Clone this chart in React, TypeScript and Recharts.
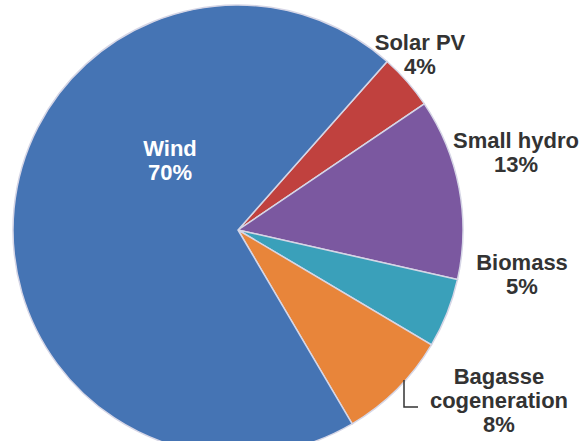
import React from 'react'
import { Cell, Pie, PieChart } from 'recharts'

// Renewable capacity mix, share of total (%)
const sources = ['Solar PV', 'Small hydro', 'Biomass', 'Bagasse cogeneration', 'Wind']
const shares = [4, 13, 5, 8, 70]
const sliceColors = ['#c0413e', '#7b58a0', '#3aa0ba', '#e8853a', '#4574b4']

// label text lines per slice, drawn next to (or inside) each wedge
const labelLines = [
  ['Solar PV', '4%'],
  ['Small hydro', '13%'],
  ['Biomass', '5%'],
  ['Bagasse', 'cogeneration', '8%'],
  ['Wind', '70%'],
]

// where each label block is centred, relative to the pie centre
const labelOffset = [
  { dx: 182, dy: -176 },
  { dx: 278, dy: -78 },
  { dx: 284, dy: 44 },
  { dx: 261, dy: 170 },
  { dx: -68, dy: -70 },
]

const data = sources.map((name, i) => ({ name, value: shares[i] }))

const FONT = '"Liberation Sans", Arial, sans-serif'
const LINE = 24

function renderLabel(props: any) {
  const { cx, cy, index } = props
  const lines = labelLines[index]
  const off = labelOffset[index]
  const inside = sources[index] === 'Wind'
  const x = cx + off.dx
  const top = cy + off.dy - ((lines.length - 1) * LINE) / 2
  return (
    <g key={`lbl-${index}`}>
      <text
        x={x}
        y={top}
        textAnchor="middle"
        dominantBaseline="central"
        fontFamily={FONT}
        fontWeight="bold"
        fontSize={22}
        fill={inside ? '#ffffff' : '#333333'}
      >
        {lines.map((l, j) => (
          <tspan key={j} x={x} dy={j === 0 ? 0 : LINE}>
            {l}
          </tspan>
        ))}
      </text>
      {sources[index] === 'Bagasse cogeneration' && (
        <polyline
          points={`${cx + 166},${cy + 150} ${cx + 166},${cy + 177} ${cx + 180},${cy + 177}`}
          fill="none"
          stroke="#333333"
          strokeWidth={1.5}
        />
      )}
    </g>
  )
}

export default function App() {
  return (
    <div style={{ position: 'absolute', left: 0, top: 0, width: 585, height: 441, background: '#ffffff' }}>
      <PieChart width={585} height={441} margin={{ top: 0, right: 0, bottom: 0, left: 0 }}>
        <Pie
          data={data}
          dataKey="value"
          nameKey="name"
          cx={238}
          cy={230}
          outerRadius={225}
          startAngle={48.5}
          endAngle={48.5 - 360}
          stroke="#d6d6e6"
          strokeWidth={1.5}
          label={renderLabel}
          labelLine={false}
          isAnimationActive={false}
        >
          {data.map((d, i) => (
            <Cell key={d.name} fill={sliceColors[i]} />
          ))}
        </Pie>
      </PieChart>
    </div>
  )
}
